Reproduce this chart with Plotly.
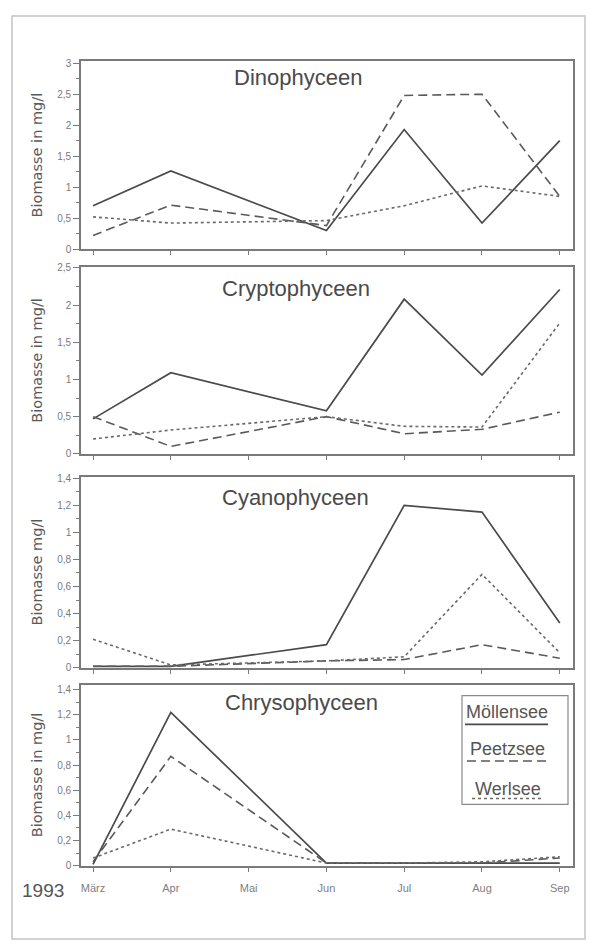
import plotly.graph_objects as go

# ---------------- data ----------------
months = ["März", "Apr", "Mai", "Jun", "Jul", "Aug", "Sep"]
lakes = ["Möllensee", "Peetzsee", "Werlsee"]
panel_titles = ["Dinophyceen", "Cryptophyceen", "Cyanophyceen", "Chrysophyceen"]
yaxis_titles = ["Biomasse in mg/l", "Biomasse in mg/l", "Biomasse mg/l", "Biomasse in mg/l"]

moellensee_dino = [0.70, 1.26, None, 0.30, 1.93, 0.42, 1.75]
peetzsee_dino = [0.22, 0.71, None, 0.38, 2.48, 2.50, 0.85]
werlsee_dino = [0.52, 0.42, None, 0.46, 0.70, 1.02, 0.85]

moellensee_crypto = [0.47, 1.09, None, 0.58, 2.08, 1.06, 2.21]
peetzsee_crypto = [0.50, 0.10, None, 0.50, 0.27, 0.33, 0.56]
werlsee_crypto = [0.20, 0.32, None, 0.50, 0.37, 0.36, 1.76]

moellensee_cyano = [0.01, 0.01, None, 0.17, 1.20, 1.15, 0.33]
peetzsee_cyano = [0.01, 0.01, None, 0.05, 0.06, 0.17, 0.07]
werlsee_cyano = [0.21, 0.02, None, 0.05, 0.08, 0.69, 0.11]

moellensee_chryso = [0.01, 1.22, None, 0.02, 0.02, 0.02, 0.02]
peetzsee_chryso = [0.03, 0.87, None, 0.02, 0.02, 0.02, 0.06]
werlsee_chryso = [0.06, 0.29, None, 0.02, 0.02, 0.03, 0.07]

yticks = [
    ([0, 0.5, 1, 1.5, 2, 2.5, 3], ["0", "0,5", "1", "1,5", "2", "2,5", "3"]),
    ([0, 0.5, 1, 1.5, 2, 2.5], ["0", "0,5", "1", "1,5", "2", "2,5"]),
    ([0, 0.2, 0.4, 0.6, 0.8, 1, 1.2, 1.4], ["0", "0,2", "0,4", "0,6", "0,8", "1", "1,2", "1,4"]),
    ([0, 0.2, 0.4, 0.6, 0.8, 1, 1.2, 1.4], ["0", "0,2", "0,4", "0,6", "0,8", "1", "1,2", "1,4"]),
]

panels = [
    [moellensee_dino, peetzsee_dino, werlsee_dino],
    [moellensee_crypto, peetzsee_crypto, werlsee_crypto],
    [moellensee_cyano, peetzsee_cyano, werlsee_cyano],
    [moellensee_chryso, peetzsee_chryso, werlsee_chryso],
]

# ---------------- layout / style ----------------
W, H = 589, 947
def px_x(x):
    return x / W
def px_y(y):
    return 1 - y / H

x_dom = [px_x(81), px_x(573)]
y_doms = [
    [px_y(247), px_y(57)],
    [px_y(454), px_y(265)],
    [px_y(670), px_y(477)],
    [px_y(870), px_y(687)],
]
y_ranges = [[-0.005, 3.03], [-0.005, 2.51], [-0.002, 1.41], [-0.002, 1.44]]
minor_dt = [0.25, 0.25, 0.1, 0.1]

line_styles = [
    dict(color="#4a4a4a", width=1.7, dash="solid"),
    dict(color="#5a5a5a", width=1.6, dash="9px,5px"),
    dict(color="#6a6a6a", width=1.6, dash="3px,3px"),
]

FONT = "Liberation Sans, Arial, sans-serif"
WIDE = "DejaVu Sans, sans-serif"
axis_col = "#7a7a7a"
text_col = "#555555"

fig = go.Figure()
xs = list(range(len(months)))

for i, series in enumerate(panels):
    xa = "x" if i == 0 else f"x{i+1}"
    ya = "y" if i == 0 else f"y{i+1}"
    for j, vals in enumerate(series):
        fig.add_trace(go.Scatter(
            x=xs, y=vals, mode="lines", name=lakes[j], showlegend=False,
            line=line_styles[j], connectgaps=True, xaxis=xa, yaxis=ya,
        ))

layout = dict(
    width=W, height=H, margin=dict(l=0, r=0, t=0, b=0),
    paper_bgcolor="white", plot_bgcolor="white",
    font=dict(family=FONT, color=text_col),
    showlegend=False,
)

for i in range(4):
    xk = "xaxis" if i == 0 else f"xaxis{i+1}"
    yk = "yaxis" if i == 0 else f"yaxis{i+1}"
    ya = "y" if i == 0 else f"y{i+1}"
    xa = "x" if i == 0 else f"x{i+1}"
    layout[xk] = dict(
        domain=x_dom, anchor=ya, range=[-0.155, 6.17],
        tickvals=xs, ticktext=months if i == 3 else [""] * len(months),
        showticklabels=(i == 3),
        ticks="outside", ticklen=4, tickwidth=1, tickcolor=axis_col,
        ticklabelstandoff=7,
        showline=True, linecolor=axis_col, linewidth=1.6, mirror=True,
        showgrid=False, zeroline=False,
        tickfont=dict(size=11, color="#808080", family=FONT),
        fixedrange=True,
    )
    tv, tt = yticks[i]
    layout[yk] = dict(
        domain=y_doms[i], anchor=xa, range=y_ranges[i],
        tickvals=tv, ticktext=tt,
        ticks="outside", ticklen=6, tickwidth=1, tickcolor=axis_col,
        minor=dict(ticks="outside", ticklen=3, dtick=minor_dt[i], tickcolor=axis_col, tick0=0),
        showline=True, linecolor=axis_col, linewidth=1.6, mirror=True,
        showgrid=False, zeroline=False,
        tickfont=dict(size=10, color="#7a7a7a", family=FONT),
        fixedrange=True,
    )

fig.update_layout(**layout)

annotations = []
title_pos = [(298, 73), (296, 287), (295, 498), (301, 705)]
for i in range(4):
    tx, ty = title_pos[i]
    annotations.append(dict(
        x=px_x(tx), y=px_y(ty), xref="paper", yref="paper",
        text=panel_titles[i], showarrow=False, xanchor="center", yanchor="middle",
        font=dict(size=22, color="#4a4a4a", family=FONT),
    ))
    yc = (y_doms[i][0] + y_doms[i][1]) / 2
    annotations.append(dict(
        x=px_x(37), y=yc, xref="paper", yref="paper",
        text=yaxis_titles[i], showarrow=False, textangle=-90,
        xanchor="center", yanchor="middle",
        font=dict(size=14.5, color="#5a5a5a", family=WIDE),
    ))

annotations.append(dict(
    x=px_x(43), y=px_y(895), xref="paper", yref="paper", text="1993",
    showarrow=False, xanchor="center", yanchor="middle",
    font=dict(size=19, color="#555555", family=FONT),
))

# custom legend inside the Chrysophyceen panel
leg_text_y = [715, 752, 792]
leg_line_y = [727, 764, 802]
leg_x = [(465, 548), (467, 547), (472, 543)]
shapes = []
for j, name in enumerate(lakes):
    x0, x1 = leg_x[j]
    annotations.append(dict(
        x=px_x((x0 + x1) / 2), y=px_y(leg_text_y[j]), xref="paper", yref="paper",
        text=name, showarrow=False, xanchor="center", yanchor="middle",
        font=dict(size=18, color="#555555", family=FONT),
    ))
    shapes.append(dict(
        type="line", xref="paper", yref="paper",
        x0=px_x(x0), x1=px_x(x1), y0=px_y(leg_line_y[j]), y1=px_y(leg_line_y[j]),
        line=line_styles[j],
    ))
shapes.append(dict(
    type="rect", xref="paper", yref="paper",
    x0=px_x(462), x1=px_x(568), y0=px_y(808), y1=px_y(698),
    line=dict(color="#8a8a8a", width=1.2),
))
# outer frame of the figure
shapes.append(dict(
    type="rect", xref="paper", yref="paper",
    x0=px_x(12), x1=px_x(585), y0=px_y(944), y1=px_y(11),
    line=dict(color="#c4c4c4", width=1.5),
))

fig.update_layout(annotations=annotations, shapes=shapes)
fig.write_html("out.html")
